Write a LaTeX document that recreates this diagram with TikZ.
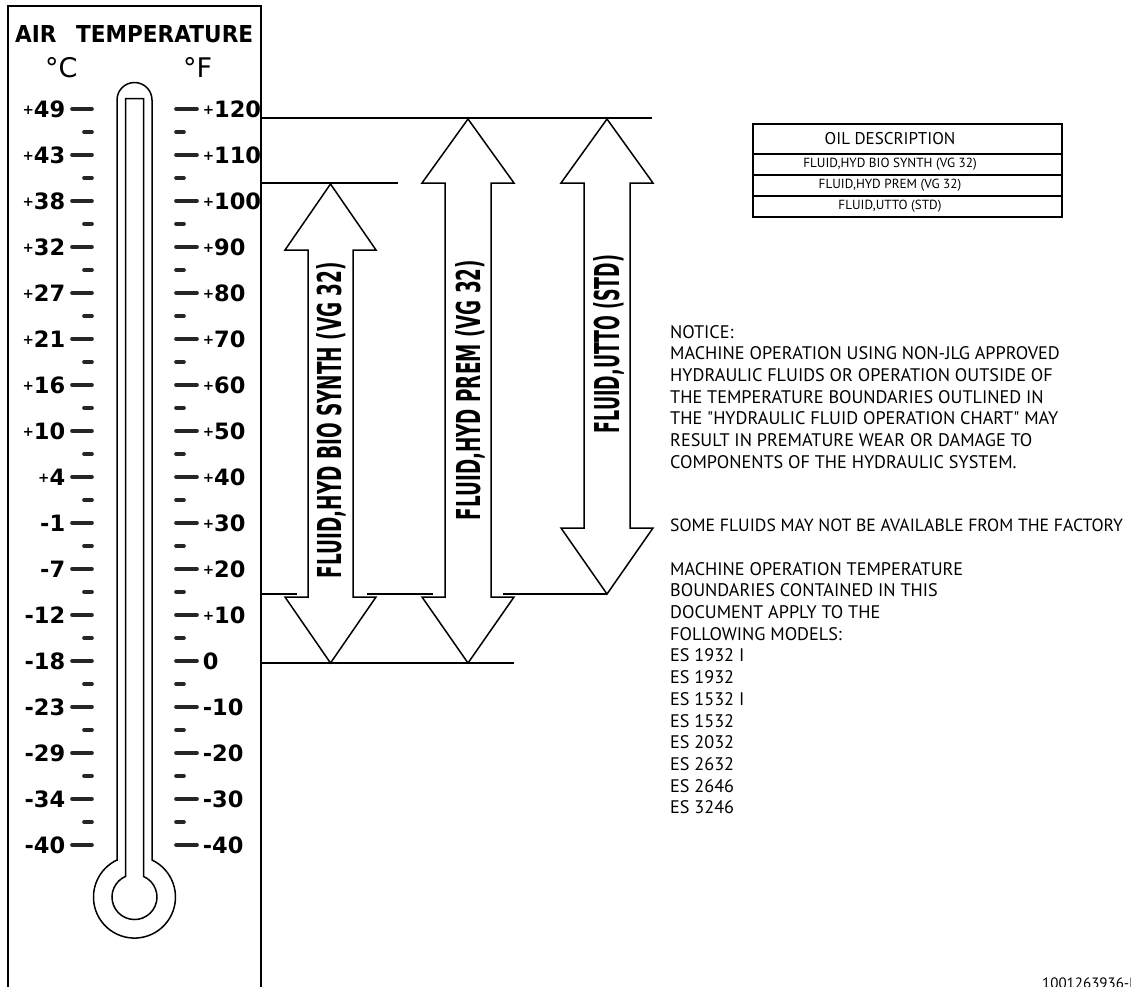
\documentclass[tikz,border=0pt]{standalone}
\usepackage{fontspec}
\usepackage{graphicx}
\setmainfont{PT Sans}
\newfontfamily\cadfont{DejaVu Sans}
\newcommand{\cadtext}[3]{\resizebox{#1pt}{#2pt}{\cadfont\bfseries #3}}
\newcommand{\pos}{\raisebox{2.6pt}{\fontsize{13.5}{13.5}\selectfont+}}

\begin{document}
\begin{tikzpicture}[x=1pt,y=-1pt,
  frame/.style={line width=1.8pt},
  outline/.style={line width=1.5pt},
  major/.style={line width=3.6pt, line cap=round, black!85},
  cel/.style={anchor=east, inner sep=0, black, font=\cadfont\bfseries\fontsize{22.5}{22.5}\selectfont},
  fah/.style={anchor=west, inner sep=0, black, font=\cadfont\bfseries\fontsize{22.5}{22.5}\selectfont},
  txt/.style={align=left, inner sep=0, anchor=north west, font=\fontsize{18.2}{21.7}\selectfont}]
\useasboundingbox (0,0) rectangle (1131,986);
% Marco del termometro
\draw[frame] (8,1000) -- (8,6) -- (261,6) -- (261,1000);
% Titulo y unidades
\node[anchor=base west, inner sep=0] (title) at (15,42) {\cadtext{238}{17}{AIR\hspace{0.9em}TEMPERATURE}};
\node[anchor=base west, inner sep=0, font=\cadfont\fontsize{27}{27}\selectfont] (degC) at (45,77) {\textdegree C};
\node[anchor=base west, inner sep=0, font=\cadfont\fontsize{27}{27}\selectfont] (degF) at (183,77) {\textdegree F};
% Tubo y bulbo
\draw[outline] (117,860) -- (117,100) arc[start angle=180, end angle=360, radius=17.5] -- (152,860) arc[start angle=-64.7, end angle=244.7, radius=41] -- cycle;
\draw[outline] (125.5,876.4) -- (125.5,98.5) -- (143.5,98.5) -- (143.5,876.4) arc[start angle=-66.4, end angle=246.4, radius=22.5] -- cycle;
% Escala (C a la izquierda, F a la derecha)
\draw[major] (67,109) node[cel] (c49) {\pos49} (72,109) -- (92,109) (176,109) -- (197,109) (201,109) node[fah] (f120) {\pos120} (84,132) -- (92,132) (176,132) -- (184,132);
\draw[major] (67,155) node[cel] (c43) {\pos43} (72,155) -- (92,155) (176,155) -- (197,155) (201,155) node[fah] (f110) {\pos110} (84,178) -- (92,178) (176,178) -- (184,178);
\draw[major] (67,201) node[cel] (c38) {\pos38} (72,201) -- (92,201) (176,201) -- (197,201) (201,201) node[fah] (f100) {\pos100} (84,224) -- (92,224) (176,224) -- (184,224);
\draw[major] (67,247) node[cel] (c32) {\pos32} (72,247) -- (92,247) (176,247) -- (197,247) (201,247) node[fah] (f90) {\pos90} (84,270) -- (92,270) (176,270) -- (184,270);
\draw[major] (67,293) node[cel] (c27) {\pos27} (72,293) -- (92,293) (176,293) -- (197,293) (201,293) node[fah] (f80) {\pos80} (84,316) -- (92,316) (176,316) -- (184,316);
\draw[major] (67,339) node[cel] (c21) {\pos21} (72,339) -- (92,339) (176,339) -- (197,339) (201,339) node[fah] (f70) {\pos70} (84,362) -- (92,362) (176,362) -- (184,362);
\draw[major] (67,385) node[cel] (c16) {\pos16} (72,385) -- (92,385) (176,385) -- (197,385) (201,385) node[fah] (f60) {\pos60} (84,408) -- (92,408) (176,408) -- (184,408);
\draw[major] (67,431) node[cel] (c10) {\pos10} (72,431) -- (92,431) (176,431) -- (197,431) (201,431) node[fah] (f50) {\pos50} (84,454) -- (92,454) (176,454) -- (184,454);
\draw[major] (67,477) node[cel] (c4) {\pos4} (72,477) -- (92,477) (176,477) -- (197,477) (201,477) node[fah] (f40) {\pos40} (84,500) -- (92,500) (176,500) -- (184,500);
\draw[major] (67,523) node[cel] (cm1) {-1} (72,523) -- (92,523) (176,523) -- (197,523) (201,523) node[fah] (f30) {\pos30} (84,546) -- (92,546) (176,546) -- (184,546);
\draw[major] (67,569) node[cel] (cm7) {-7} (72,569) -- (92,569) (176,569) -- (197,569) (201,569) node[fah] (f20) {\pos20} (84,592) -- (92,592) (176,592) -- (184,592);
\draw[major] (67,615) node[cel] (cm12) {-12} (72,615) -- (92,615) (176,615) -- (197,615) (201,615) node[fah] (f10) {\pos10} (84,638) -- (92,638) (176,638) -- (184,638);
\draw[major] (67,661) node[cel] (cm18) {-18} (72,661) -- (92,661) (176,661) -- (197,661) (201,661) node[fah] (f0) {0} (84,684) -- (92,684) (176,684) -- (184,684);
\draw[major] (67,707) node[cel] (cm23) {-23} (72,707) -- (92,707) (176,707) -- (197,707) (201,707) node[fah] (fm10) {-10} (84,730) -- (92,730) (176,730) -- (184,730);
\draw[major] (67,753) node[cel] (cm29) {-29} (72,753) -- (92,753) (176,753) -- (197,753) (201,753) node[fah] (fm20) {-20} (84,776) -- (92,776) (176,776) -- (184,776);
\draw[major] (67,799) node[cel] (cm34) {-34} (72,799) -- (92,799) (176,799) -- (197,799) (201,799) node[fah] (fm30) {-30} (84,822) -- (92,822) (176,822) -- (184,822);
\draw[major] (67,845) node[cel] (cm40) {-40} (72,845) -- (92,845) (176,845) -- (197,845) (201,845) node[fah] (fm40) {-40};
% Lineas de limite
\draw[outline] (261,118) -- (652,118);
\draw[outline] (261,183) -- (398,183);
\draw[outline] (261,663) -- (514,663);
\draw[outline] (261,594) -- (297,594) (367,594) -- (433,594) (503,594) -- (607,594);
% Flechas de rango
\draw[outline] (330.5,184) -- (376,250) -- (353,250) -- (353,597) -- (376,597) -- (330.5,663) -- (285,597) -- (308,597) -- (308,250) -- (285,250) -- cycle;
\draw[outline] (468,119) -- (514,183) -- (491,183) -- (491,597) -- (514,597) -- (468,663) -- (422,597) -- (445,597) -- (445,183) -- (422,183) -- cycle;
\draw[outline] (607,119) -- (653,183) -- (630,183) -- (630,528) -- (653,528) -- (607,594) -- (561,528) -- (584,528) -- (584,183) -- (561,183) -- cycle;
\node[rotate=90, inner sep=0] (bio) at (331,420) {\cadtext{316}{25}{FLUID,HYD BIO SYNTH (VG 32)}};
\node[rotate=90, inner sep=0] (prem) at (470,390) {\cadtext{260}{25}{FLUID,HYD PREM (VG 32)}};
\node[rotate=90, inner sep=0] (utto) at (608.5,344) {\cadtext{178}{26}{FLUID,UTTO (STD)}};
% Tabla de aceites
\draw[outline] (753,124) rectangle (1062,217);
\draw[outline] (753,154) -- (1062,154) (753,175) -- (1062,175) (753,196) -- (1062,196);
\node[font=\fontsize{17}{17}\selectfont, inner sep=0] (oilhead) at (890,139) {OIL DESCRIPTION};
\node[font=\fontsize{13.2}{13.2}\selectfont, inner sep=0] (oilbio) at (890,164.5) {FLUID,HYD BIO SYNTH (VG 32)};
\node[font=\fontsize{13.2}{13.2}\selectfont, inner sep=0] (oilprem) at (890,185.5) {FLUID,HYD PREM (VG 32)};
\node[font=\fontsize{13.2}{13.2}\selectfont, inner sep=0] (oilutto) at (890,206.5) {FLUID,UTTO (STD)};
% Notas
\node[txt] (notice) at (670,325) {NOTICE:\\MACHINE OPERATION USING NON-JLG APPROVED\\HYDRAULIC FLUIDS OR OPERATION OUTSIDE OF\\THE TEMPERATURE BOUNDARIES OUTLINED IN\\THE \textquotedbl HYDRAULIC FLUID OPERATION CHART\textquotedbl{} MAY\\RESULT IN PREMATURE WEAR OR DAMAGE TO\\COMPONENTS OF THE HYDRAULIC SYSTEM.};
\node[txt, font=\fontsize{17.7}{21.7}\selectfont] (factory) at (670,519) {SOME FLUIDS MAY NOT BE AVAILABLE FROM THE FACTORY};
\node[txt] (models) at (670,562) {MACHINE OPERATION TEMPERATURE\\BOUNDARIES CONTAINED IN THIS\\DOCUMENT APPLY TO THE\\FOLLOWING MODELS:\\ES 1932 I\\ES 1932\\ES 1532 I\\ES 1532\\ES 2032\\ES 2632\\ES 2646\\ES 3246};
\node[anchor=base west, inner sep=0, font=\fontsize{15}{15}\selectfont] (docnum) at (1042,988) {1001263936-B};
\end{tikzpicture}
\end{document}
